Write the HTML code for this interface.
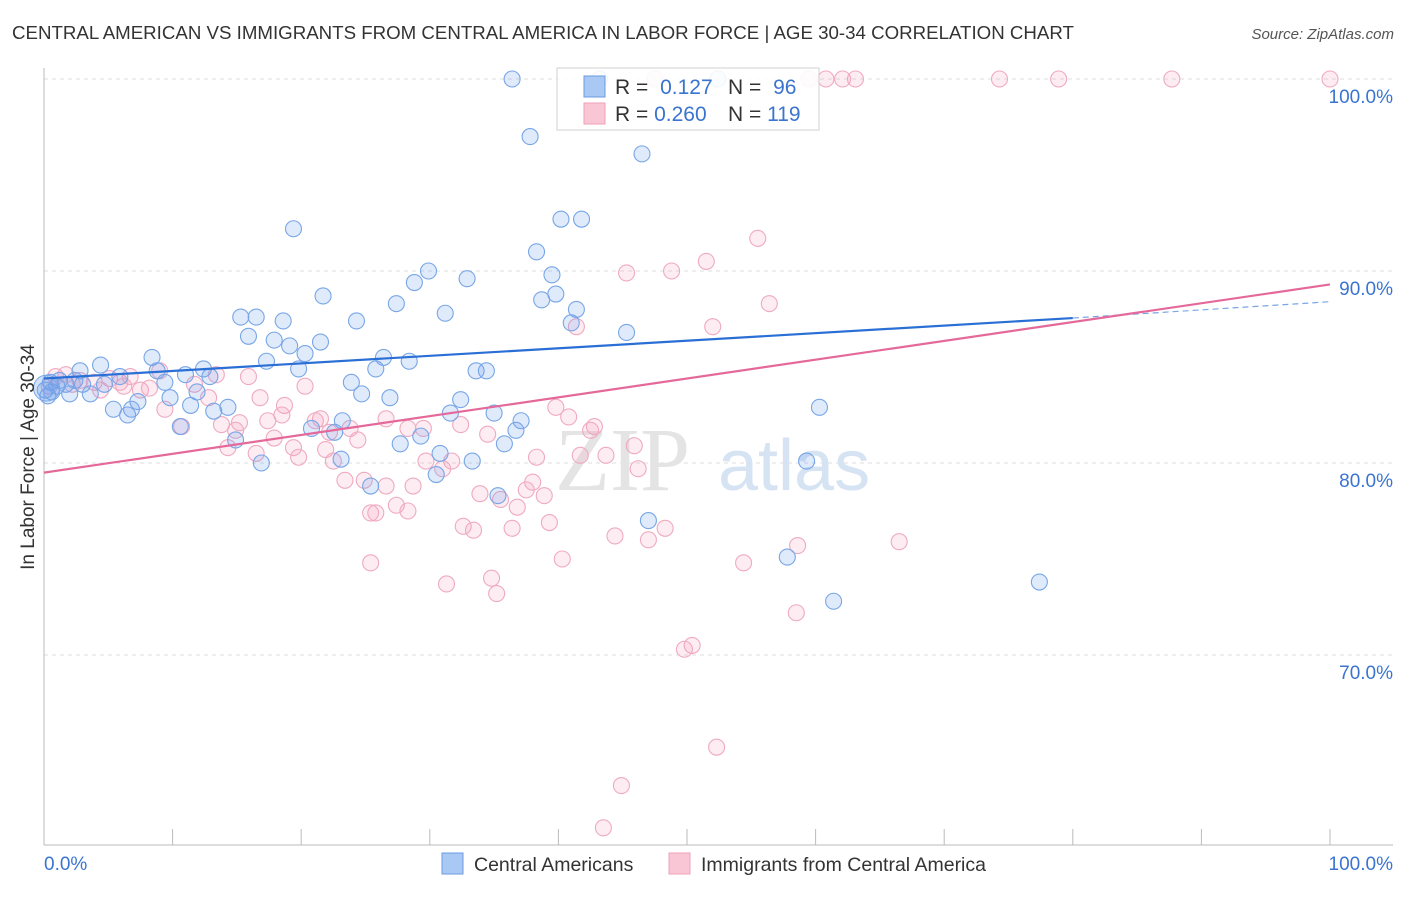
<!DOCTYPE html>
<html><head><meta charset="utf-8"><style>
body{margin:0;background:#fff;font-family:"Liberation Sans",sans-serif}
</style></head><body>
<svg id="c" width="1406" height="892" xmlns="http://www.w3.org/2000/svg">
<text x="12" y="39" font-size="18.7" fill="#333">CENTRAL AMERICAN VS IMMIGRANTS FROM CENTRAL AMERICA IN LABOR FORCE | AGE 30-34 CORRELATION CHART</text>
<text x="1394" y="39" font-size="15" fill="#555" text-anchor="end" font-style="italic">Source: ZipAtlas.com</text>
<g id="grid"></g>
<g><text x="555" y="490" font-size="90" fill="#e4e4e4" font-family="Liberation Serif,serif">ZIP</text><text x="718" y="490" font-size="72" fill="#d5e3f3">atlas</text></g>
<g id="pts"></g>
<g id="lines"></g>
<text transform="translate(34,457) rotate(-90)" font-size="19" fill="#333" text-anchor="middle">In Labor Force | Age 30-34</text>
<g>
<rect x="557" y="68" width="262" height="62" fill="#fff" stroke="#ccc" opacity="0.9"/>
<rect x="584" y="76" width="21" height="21" fill="#a9c8f3" stroke="#6a9be0"/>
<rect x="584" y="103" width="21" height="21" fill="#f9c6d6" stroke="#f0a0b8"/>
<text x="615" y="94" font-size="21" fill="#333">R = <tspan fill="#3a74d0" dx="6">0.127</tspan></text>
<text x="728" y="94" font-size="21" fill="#333">N = <tspan fill="#3a74d0" dx="6">96</tspan></text>
<text x="615" y="121" font-size="21" fill="#333">R = <tspan fill="#3a74d0">0.260</tspan></text>
<text x="728" y="121" font-size="21" fill="#333">N = <tspan fill="#3a74d0">119</tspan></text>
</g>
<g>
<rect x="442" y="853" width="21" height="21" fill="#a9c8f3" stroke="#6a9be0"/>
<text x="474" y="871" font-size="19.5" fill="#333">Central Americans</text>
<rect x="669" y="853" width="21" height="21" fill="#f9c6d6" stroke="#f0a0b8"/>
<text x="701" y="871" font-size="19.5" fill="#333">Immigrants from Central America</text>
</g>
</svg>
<script>
const yTicks=[100,90,80,70];
const xTickLabels=["0.0%","100.0%"];
const blueX=[36.4,37.8,46.5,19.4,40.2,41.8,38.3,29.9,32.9,39.5,28.8,39.8,38.7,21.7,27.4,41.4,31.2,15.3,16.5,18.6,24.3,41.0,15.9,45.3,17.9,19.1,21.5,20.3,8.4,26.4,17.3,28.4,4.4,19.8,12.4,25.8,33.6,34.4,2.8,8.8,11.0,12.9,5.9,1.2,0.5,1.7,9.4,4.7,23.9,0.1,2.0,3.6,11.9,24.7,9.8,26.9,32.4,7.3,11.4,5.4,6.8,6.5,13.2,14.3,31.6,35.0,60.3,23.2,37.1,20.8,36.7,10.6,22.6,29.3,14.9,27.7,35.8,30.8,23.1,33.3,16.9,59.3,30.5,25.4,35.3,47.0,57.8,77.4,61.4,52.4,43.2,0.3,1.0,2.4,0.6,3.0];
const blueY=[100,97.0,96.1,92.2,92.7,92.7,91.0,90.0,89.6,89.8,89.4,88.8,88.5,88.7,88.3,88.0,87.8,87.6,87.6,87.4,87.4,87.3,86.6,86.8,86.4,86.1,86.3,85.7,85.5,85.5,85.3,85.3,85.1,84.9,84.9,84.9,84.8,84.8,84.8,84.8,84.6,84.5,84.5,84.3,84.2,84.1,84.2,84.1,84.2,83.8,83.6,83.6,83.7,83.6,83.4,83.4,83.3,83.2,83.0,82.8,82.8,82.5,82.7,82.9,82.6,82.6,82.9,82.2,82.2,81.8,81.7,81.9,81.6,81.4,81.2,81.0,81.0,80.5,80.2,80.1,80.0,80.1,79.4,78.8,78.3,77.0,75.1,73.8,72.8,100,100,83.5,84.0,84.3,83.7,84.1];
const pinkX=[47.5,59.5,60.8,62.1,63.1,74.3,78.9,87.7,100,55.5,51.5,45.3,48.8,56.4,52.0,41.4,0.9,1.7,2.8,3.9,5.1,6.7,9.0,13.4,15.9,5.9,7.5,8.2,11.7,12.8,16.8,20.3,9.4,10.7,13.8,15.2,14.9,17.4,18.7,18.5,21.1,21.5,22.2,23.8,26.6,28.3,29.5,32.4,24.4,17.9,14.3,16.5,19.4,19.8,21.9,22.5,34.5,39.8,40.8,42.8,42.5,45.9,41.7,43.7,38.3,29.7,31.7,31.0,46.2,24.9,23.4,26.6,28.7,33.9,38.0,37.5,38.9,35.5,36.8,27.4,28.3,25.4,25.8,39.3,32.6,33.4,36.4,48.3,44.4,47.0,66.5,58.6,25.4,40.3,54.4,34.8,31.3,35.2,58.5,50.4,49.8,52.3,44.9,43.5,0.4,2.2,4.4,6.2];
const pinkY=[100,100,100,100,100,100,100,100,100,91.7,90.5,89.9,90.0,88.3,87.1,87.1,84.5,84.6,84.3,84.2,84.4,84.5,84.8,84.6,84.5,84.2,83.8,83.9,84.1,83.4,83.4,84.0,82.8,81.9,82.0,82.1,81.7,82.2,83.0,82.5,82.2,82.3,81.6,81.8,82.3,81.8,81.8,82.0,81.2,81.3,80.8,80.5,80.8,80.3,80.7,80.1,81.5,82.9,82.4,81.9,81.7,80.9,80.4,80.4,80.3,80.1,80.1,79.7,79.7,79.1,79.1,78.8,78.8,78.4,79.0,78.6,78.3,78.1,77.7,77.8,77.5,77.4,77.4,76.9,76.7,76.5,76.6,76.6,76.2,76.0,75.9,75.7,74.8,75.0,74.8,74.0,73.7,73.2,72.2,70.5,70.3,65.2,63.2,61.0,84.0,84.1,83.8,84.0];
const blueTrend=[84.4,87.55,88.4]; // at x=0, 80, 100
const pinkTrend=[79.5,89.3]; // at x=0, 100
const NS="http://www.w3.org/2000/svg";
const sx=v=>44+v*12.86, sy=v=>79+(100-v)*19.2;
function mk(t,a,p){const e=document.createElementNS(NS,t);for(const k in a)e.setAttribute(k,a[k]);p.appendChild(e);return e;}
const grid=document.getElementById('grid');
yTicks.forEach(t=>{
 const l=mk('line',{x1:44,x2:1393,y1:sy(t),y2:sy(t),stroke:'#ddd','stroke-dasharray':'4,4'},grid);
 
 
 const tx=mk('text',{x:1393,y:sy(t)+24,'font-size':19,fill:'#3a74d0','text-anchor':'end'},grid);
 tx.textContent=t.toFixed(1)+'%';
 
 
});
mk('line',{x1:44,x2:44,y1:68,y2:845,stroke:'#bbb'},grid);
mk('line',{x1:44,x2:1393,y1:845,y2:845,stroke:'#bbb'},grid);
for(let i=0;i<=10;i++){mk('line',{x1:sx(i*10),x2:sx(i*10),y1:829,y2:845,stroke:'#bbb'},grid);}
const xl0=mk('text',{x:44,y:870,'font-size':19,fill:'#3a74d0'},grid);xl0.textContent=xTickLabels[0];


const xl1=mk('text',{x:1393,y:870,'font-size':19,fill:'#3a74d0','text-anchor':'end'},grid);xl1.textContent=xTickLabels[1];


const pts=document.getElementById('pts');


pinkX.forEach((x,i)=>{const c=mk('circle',{cx:sx(x),cy:sy(pinkY[i]),r:8,fill:'rgba(245,160,190,0.2)',stroke:'#efaac0','stroke-width':1.1},pts);
 
 });
blueX.forEach((x,i)=>{const c=mk('circle',{cx:sx(x),cy:sy(blueY[i]),r:8,fill:'rgba(110,160,235,0.22)',stroke:'#78a6e6','stroke-width':1.1},pts);
 
 });
const big=mk('circle',{cx:sx(0.2),cy:sy(83.9),r:13,fill:'rgba(110,160,235,0.3)',stroke:'#78a6e6'},pts);


const lines=document.getElementById('lines');
const b1=mk('line',{x1:sx(0),y1:sy(blueTrend[0]),x2:sx(80),y2:sy(blueTrend[1]),stroke:'#2a6fd6','stroke-width':2.2},lines);


const b2=mk('line',{x1:sx(80),y1:sy(blueTrend[1]),x2:sx(100),y2:sy(blueTrend[2]),stroke:'#7aa6e6','stroke-width':1.2,'stroke-dasharray':'6,4'},lines);


const p1=mk('line',{x1:sx(0),y1:sy(pinkTrend[0]),x2:sx(100),y2:sy(pinkTrend[1]),stroke:'#e4699a','stroke-width':2.2},lines);


</script>
</body></html>
